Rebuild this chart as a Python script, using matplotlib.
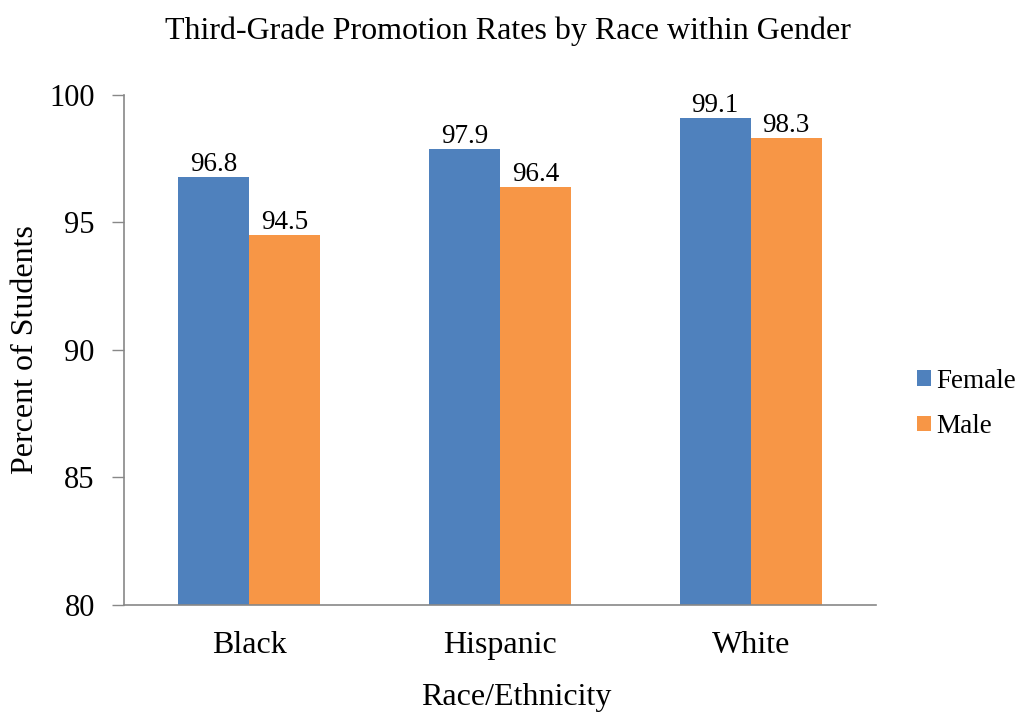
import numpy as np
import matplotlib.pyplot as plt

# Data
races = ["Black", "Hispanic", "White"]
female = [96.8, 97.9, 99.1]
male = [94.5, 96.4, 98.3]
y_ticks = [80, 85, 90, 95, 100]

plt.rcParams['font.family'] = ['Liberation Serif', 'DejaVu Serif']

fig = plt.figure(figsize=(10.18, 7.13), dpi=100)
ax = fig.add_axes([0.1218, 0.1515, 0.7387, 0.7153])

x = np.arange(len(races))
width = 0.283
bars_f = ax.bar(x - width / 2, female, width, color='#4F81BD', label='Female')
bars_m = ax.bar(x + width / 2, male, width, color='#F79646', label='Male')

# value labels on top of bars
for bars in (bars_f, bars_m):
    for b in bars:
        ax.annotate(f"{b.get_height():.1f}", (b.get_x() + b.get_width() / 2, b.get_height()),
                    xytext=(0, 0), textcoords='offset points',
                    ha='center', va='bottom', fontsize=19.5)

ax.set_ylim(80, 100)
ax.set_xlim(-0.5, 2.5)
ax.set_yticks(y_ticks)
ax.set_xticks(x)
ax.set_xticklabels(races)
ax.tick_params(axis='y', labelsize=22, length=9, color='#888888', width=1, pad=12)
ax.tick_params(axis='x', labelsize=23, length=0, pad=19)

for s in ('top', 'right'):
    ax.spines[s].set_visible(False)
for s in ('left', 'bottom'):
    ax.spines[s].set_color('#888888')
    ax.spines[s].set_linewidth(1.2)

ax.set_title("Third-Grade Promotion Rates by Race within Gender", fontsize=23, pad=40, x=0.51)
ax.set_ylabel("Percent of Students", fontsize=23, labelpad=7)
ax.set_xlabel("Race/Ethnicity", fontsize=23, labelpad=16, x=0.521)

ax.legend(loc='center left', bbox_to_anchor=(0.9008, 0.4334), bbox_transform=fig.transFigure,
          frameon=False, borderpad=0, borderaxespad=0,
          fontsize=19.5, handlelength=0.5, handleheight=0.5, handletextpad=0.22,
          labelspacing=0.75)

plt.savefig("out.png", dpi=100)
plt.close()
